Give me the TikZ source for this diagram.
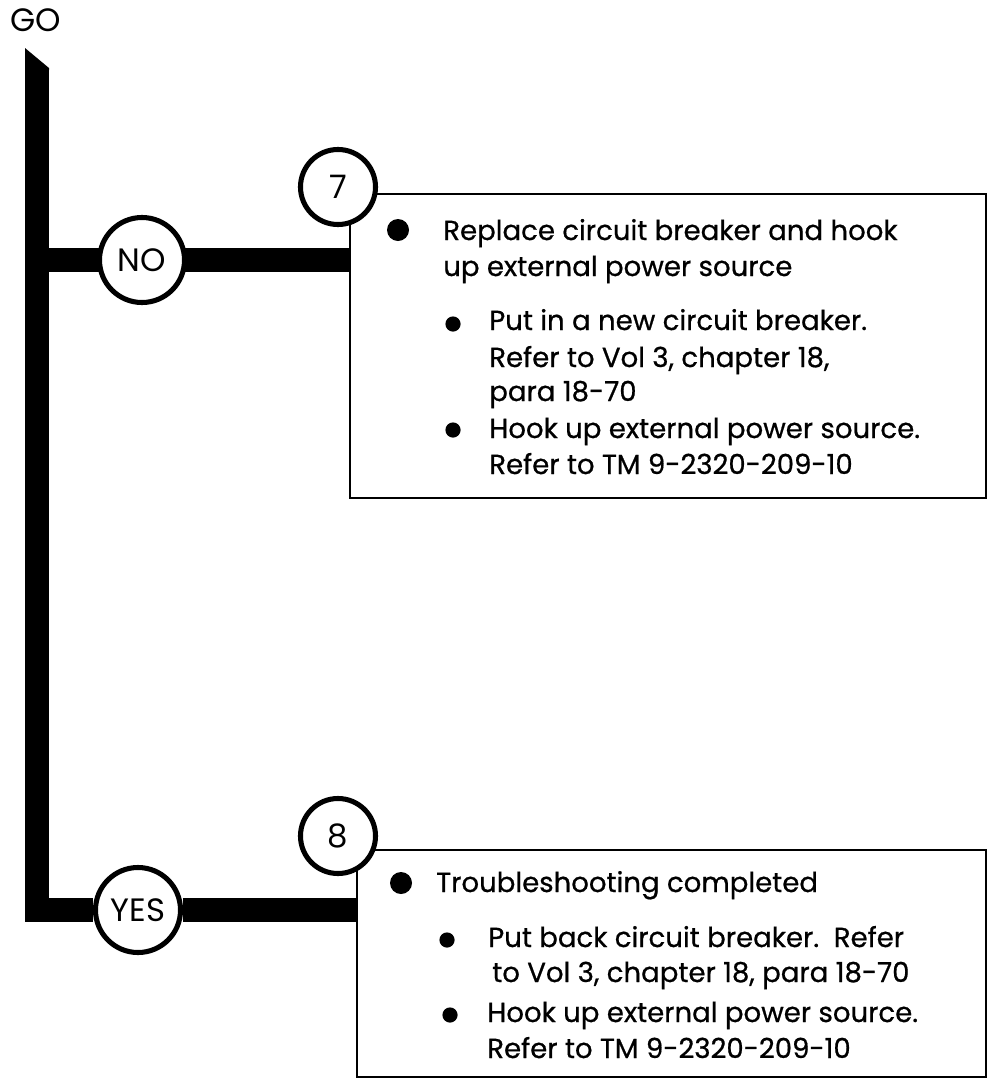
\documentclass[tikz,border=0pt]{standalone}
\usepackage{fontspec}
\setmainfont{Poppins}
\newfontfamily\heavyfont{Poppins}[FakeBold=0.7]
\usetikzlibrary{backgrounds}

\tikzset{
  flowbar/.style={line width=0.6cm, line cap=butt, line join=miter},
  ansring/.style={circle, draw, line width=3.6pt, fill=white, minimum size=2.125cm,
    inner sep=0pt, font=\fontsize{23}{26}\selectfont},
  stepring/.style={circle, draw, line width=3.6pt, fill=white, minimum size=1.875cm,
    inner sep=0pt, font=\fontsize{23}{26}\selectfont},
  panel/.style={draw, line width=2.1pt},
  bigdot/.style={circle, fill, inner sep=0pt, minimum size=0.55cm},
  smalldot/.style={circle, fill, inner sep=0pt, minimum size=0.38cm},
  itemtext/.style={anchor=base west, inner sep=0pt, font=\heavyfont\fontsize{19.6}{25}\selectfont}
}

\begin{document}
\begin{tikzpicture}[x=0.025cm, y=-0.025cm]
\useasboundingbox (0,0) rectangle (989,1079);
\node[font=\fontsize{23}{26}\selectfont] (go) at (36,20) {GO};
% step panels
\coordinate (p7nw) at (350,194);
\coordinate (p7se) at (986,498);
\draw[panel] (p7nw) rectangle (p7se);
\coordinate (p8nw) at (357,850);
\coordinate (p8se) at (986,1077);
\draw[panel] (p8nw) rectangle (p8se);
\node[stepring] (s7) at (338,187) {7};
\node[stepring] (s8) at (338,836) {8};
% answers
\node[ansring] (no) at (142,260) {NO};
\node[ansring] (yes) at (138,910) {YES};
\coordinate (top) at (37,68);
\begin{scope}[on background layer]
  \fill (25,48) -- (49,68) -- (49,70) -- (25,70) -- cycle;
  \draw[flowbar] (top) |- (yes);
  \draw[flowbar] (yes) -- (yes -| p8nw);
  \draw[flowbar] (no -| top) -- (no -| p7nw);
\end{scope}
% step 7 text
\node[bigdot] (d7) at (398,230) {};
\node[smalldot] (d7a) at (453,324) {};
\node[smalldot] (d7b) at (453,430) {};
\foreach \x/\y/\txt in {443/240/{Replace circuit breaker and hook},
    443/276/{up external power source},
    489/330/{Put in a new circuit breaker.},
    489/367/{Refer to Vol 3, chapter 18,},
    489/401/{para 18-70},
    489/438/{Hook up external power source.},
    489/474/{Refer to TM 9-2320-209-10}}
  \node[itemtext] at (\x,\y) {\txt};
% step 8 text
\node[bigdot] (d8) at (401,883) {};
\node[smalldot] (d8a) at (447,940) {};
\node[smalldot] (d8b) at (450,1015) {};
\foreach \x/\y/\txt in {436/892/{Troubleshooting completed},
    488/947/{Put back circuit breaker.\ \ Refer},
    492/982/{to Vol 3, chapter 18, para 18-70},
    487/1022/{Hook up external power source.},
    487/1058/{Refer to TM 9-2320-209-10}}
  \node[itemtext] at (\x,\y) {\txt};
\end{tikzpicture}
\end{document}
